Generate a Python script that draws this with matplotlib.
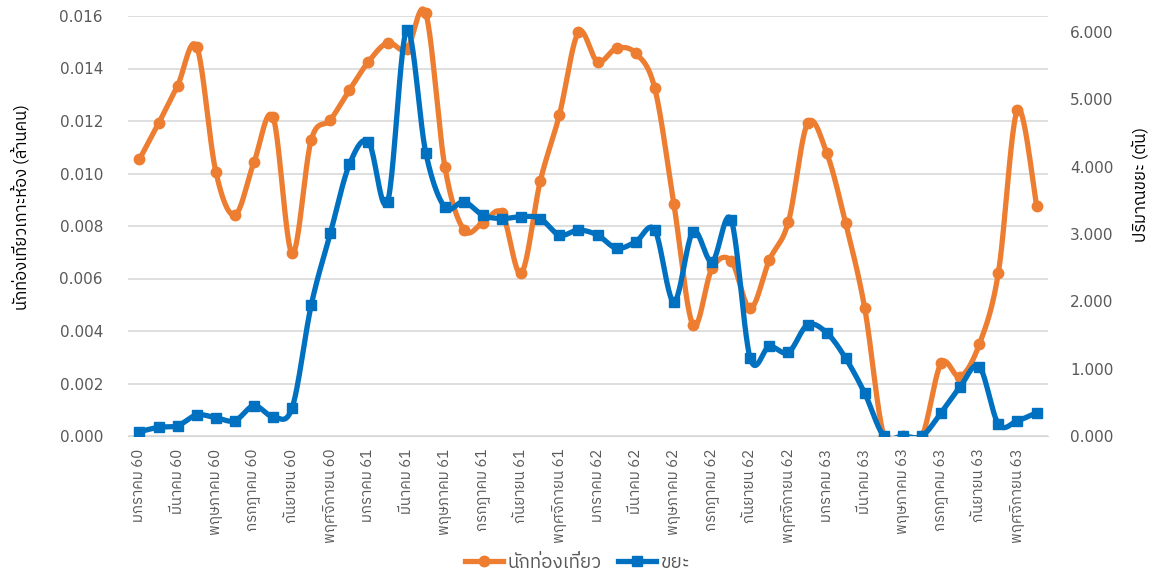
import numpy as np
import matplotlib
matplotlib.use("Agg")
import matplotlib.pyplot as plt
from matplotlib import font_manager, ft2font
from matplotlib.lines import Line2D
from matplotlib.patches import Rectangle

# ---------------- data ----------------
months = ["มกราคม", "กุมภาพันธ์", "มีนาคม", "เมษายน", "พฤษภาคม", "มิถุนายน",
          "กรกฎาคม", "สิงหาคม", "กันยายน", "ตุลาคม", "พฤศจิกายน", "ธันวาคม"]
years = ["60", "61", "62", "63"]
categories = [f"{m} {y}" for y in years for m in months]

tourists = [0.01054, 0.01191, 0.01335, 0.01483, 0.01007, 0.00842, 0.01043, 0.01214,
            0.00696, 0.01128, 0.01204, 0.01318, 0.01426, 0.01498, 0.01473, 0.01610,
            0.01026, 0.00785, 0.00813, 0.00848, 0.00620, 0.00971, 0.01223, 0.01538,
            0.01426, 0.01477, 0.01458, 0.01324, 0.00883, 0.00423, 0.00639, 0.00668,
            0.00486, 0.00670, 0.00816, 0.01191, 0.01080, 0.00810, 0.00486, 0.0,
            0.0, 0.0, 0.00277, 0.00226, 0.00349, 0.00622, 0.01242, 0.00877]

waste = [0.064, 0.129, 0.153, 0.312, 0.272, 0.227, 0.450, 0.287,
         0.420, 1.946, 3.010, 4.035, 4.370, 3.480, 6.030, 4.210,
         3.400, 3.480, 3.280, 3.230, 3.260, 3.230, 2.985, 3.060,
         2.985, 2.790, 2.885, 3.060, 1.995, 3.035, 2.590, 3.210,
         1.154, 1.330, 1.243, 1.650, 1.535, 1.154, 0.634, 0.0,
         0.0, 0.0, 0.346, 0.732, 1.030, 0.178, 0.227, 0.346]

series_names = ["นักท่องเที่ยว", "ขยะ"]
left_label = "นักท่องเที่ยวเกาะห้อง (ล้านคน)"
right_label = "ปริมาณขยะ (ตัน)"

left_ticks = [0.000, 0.002, 0.004, 0.006, 0.008, 0.010, 0.012, 0.014, 0.016]
right_ticks = [0, 1, 2, 3, 4, 5, 6]

# ---------------- font with Thai ----------------
def find_thai_family():
    best = None
    for f in font_manager.fontManager.ttflist:
        try:
            cm = ft2font.FT2Font(f.fname).get_charmap()
        except Exception:
            continue
        if 0x0E01 in cm and 0x0E48 in cm:
            score = 0
            n = f.name.lower()
            if "thai" in n:
                score += 2
            if "looped" in n:
                score -= 1
            if "sans" in n:
                score += 1
            if best is None or score > best[0]:
                best = (score, f.name)
    return best[1] if best else None

thai = find_thai_family()
fams = ([thai] if thai else []) + ["DejaVu Sans"]
plt.rcParams["font.family"] = fams

# ---------------- smoothing (Excel-like) ----------------
def smooth(x, y, n=24):
    x = np.asarray(x, float); y = np.asarray(y, float)
    px = np.concatenate([[x[0]], x, [x[-1]]])
    py = np.concatenate([[y[0]], y, [y[-1]]])
    xs, ys = [], []
    t = np.linspace(0, 1, n, endpoint=False)
    for i in range(len(x) - 1):
        p0x, p0y = px[i + 1], py[i + 1]
        p3x, p3y = px[i + 2], py[i + 2]
        c1x = p0x + (px[i + 2] - px[i]) / 6; c1y = p0y + (py[i + 2] - py[i]) / 6
        c2x = p3x - (px[i + 3] - px[i + 1]) / 6; c2y = p3y - (py[i + 3] - py[i + 1]) / 6
        b0 = (1 - t) ** 3; b1 = 3 * (1 - t) ** 2 * t; b2 = 3 * (1 - t) * t ** 2; b3 = t ** 3
        xs.append(b0 * p0x + b1 * c1x + b2 * c2x + b3 * p3x)
        ys.append(b0 * p0y + b1 * c1y + b2 * c2y + b3 * p3y)
    xs.append([x[-1]]); ys.append([y[-1]])
    return np.concatenate(xs), np.concatenate(ys)

orange = "#ED7D31"
blue = "#0070C0"
gray = "#595959"
W, H = 1155, 577

fig = plt.figure(figsize=(W / 100, H / 100), dpi=100)
ax = fig.add_axes([128 / W, 1 - 436 / H, (1048 - 128) / W, 420 / H])
ax2 = ax.twinx()

def clip_box():
    # clip below the x axis, allow slight overshoot above the top
    return Rectangle((-0.05, 0), 1.1, 1.2, transform=ax.transAxes)

x = np.arange(len(categories))
sx, sy = smooth(x, tourists)
artists = []
artists += ax.plot(sx, sy, color=orange, lw=3.8, solid_capstyle="round", zorder=3)
artists += ax.plot(x, tourists, ls="none", marker="o", ms=7.5, color=orange, zorder=4)

wx, wy = smooth(x, waste)
artists += ax2.plot(wx, wy, color=blue, lw=3.8, zorder=3)
artists += ax2.plot(x, waste, ls="none", marker="s", ms=7.5, color=blue, zorder=4)
for a in artists:
    a.set_clip_path(clip_box())

ax.set_xlim(-0.6, len(categories) - 0.4)
ax.set_ylim(0, 0.016)
ax.set_yticks(left_ticks)
ax.set_yticklabels([f"{v:.3f}" for v in left_ticks], family="DejaVu Sans", fontsize=11)
ax2.set_ylim(0, 6.24)
ax2.set_yticks(right_ticks)
ax2.set_yticklabels([f"{v:.3f}" for v in right_ticks], family="DejaVu Sans", fontsize=11)

ax.set_xticks(x[::2])
ax.set_xticklabels(categories[::2], rotation=90, fontsize=10.8)

ax.grid(axis="y", color="#D9D9D9", lw=1.2)
ax.set_axisbelow(True)
for a in (ax, ax2):
    for s in a.spines.values():
        s.set_visible(False)
    a.tick_params(length=0, colors=gray)
ax.spines["bottom"].set_visible(True)
ax.spines["bottom"].set_color("#D9D9D9")
ax.tick_params(axis="y", pad=18)
ax2.tick_params(axis="y", pad=16)
ax.tick_params(axis="x", pad=9)

fig.text(20 / W, 1 - 207 / H, left_label, rotation=90, ha="center", va="center",
         fontsize=12, color="black")
fig.text(1140 / W, 1 - 185 / H, right_label, rotation=90, ha="center", va="center",
         fontsize=12, color="black")

handles = [Line2D([], [], color=orange, lw=3.8, marker="o", ms=7.5),
           Line2D([], [], color=blue, lw=3.8, marker="s", ms=7.5)]
fig.legend(handles, series_names, loc="center", bbox_to_anchor=(0.5, 1 - 563 / H),
           ncol=2, frameon=False, fontsize=13.5, handlelength=2.0, handletextpad=0.25,
           columnspacing=0.9, labelcolor=gray, borderpad=0)

fig.savefig("out.png", dpi=100)
